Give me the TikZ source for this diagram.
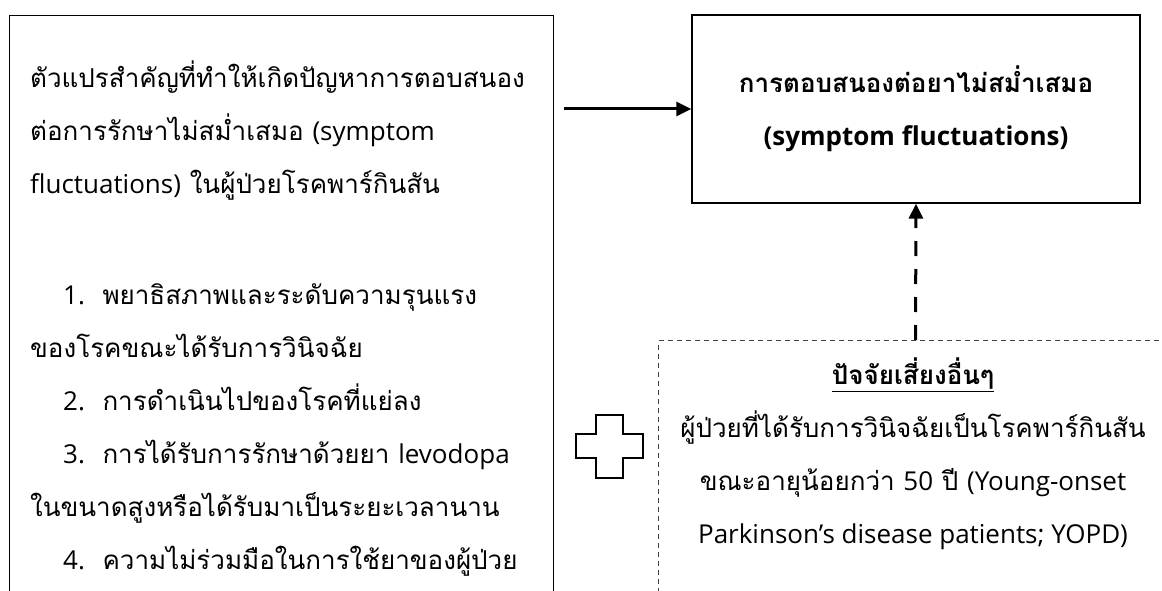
\documentclass[tikz,border=0pt]{standalone}
\usepackage{fontspec}
\setmainfont[Script=Thai]{Loma}
\newfontfamily\latinfont{Open Sans}
\newcommand{\lat}[1]{{\latinfont #1}}
\usetikzlibrary{arrows.meta, positioning}

\begin{document}
\begin{tikzpicture}
  [x=1pt, y=-1pt,
  frame/.style={draw, line width=1.3pt, inner sep=0pt},
  riskframe/.style={draw=black!75, line width=1pt, dash pattern=on 5pt off 4pt, inner sep=0pt},
  body/.style={inner sep=0pt, font=\fontsize{26}{53}\selectfont},
  heavy/.style={line width=3pt}]

\useasboundingbox (0,0) rectangle (1162,591);

% Boxes
\node[frame, anchor=north west, minimum width=544pt, minimum height=620pt] (factors) at (9,15) {};
\node[frame, minimum width=448pt, minimum height=188pt, align=center, body, font=\fontsize{26}{53}\selectfont\bfseries] (outcome) at (916,109) {การตอบสนองต่อยาไม่สม่ำเสมอ\\\lat{(symptom fluctuations)}};
\node[riskframe, anchor=north west, minimum width=514pt, minimum height=300pt] (risk) at (658,340) {};

% Text of the factors box
\node[body, anchor=north west, align=left] (factorlist) at (30,61) {ตัวแปรสำคัญที่ทำให้เกิดปัญหาการตอบสนอง\\
ต่อการรักษาไม่สม่ำเสมอ \lat{(symptom}\\
\lat{fluctuations)} ในผู้ป่วยโรคพาร์กินสัน\\
\mbox{}\\[5pt]
\hspace*{33pt}\lat{1.}\ \ พยาธิสภาพและระดับความรุนแรง\\
ของโรคขณะได้รับการวินิจฉัย\\
\hspace*{33pt}\lat{2.}\ \ การดำเนินไปของโรคที่แย่ลง\\
\hspace*{33pt}\lat{3.}\ \ การได้รับการรักษาด้วยยา \lat{levodopa}\\
ในขนาดสูงหรือได้รับมาเป็นระยะเวลานาน\\
\hspace*{33pt}\lat{4.}\ \ ความไม่ร่วมมือในการใช้ยาของผู้ป่วย};

% Text of the risk box
\node[body, anchor=north, align=center] (risklist) at (913,358) {\textbf{\underline{ปัจจัยเสี่ยงอื่นๆ}}\\
ผู้ป่วยที่ได้รับการวินิจฉัยเป็นโรคพาร์กินสัน\\
ขณะอายุน้อยกว่า \lat{50} ปี \lat{(Young-onset}\\
\lat{Parkinson’s disease patients; YOPD)}};

% Plus sign
\draw[line width=2.2pt] (596,415) -- (623,415) -- (623,434) -- (643,434) -- (643,458) -- (623,458)
  -- (623,478) -- (596,478) -- (596,458) -- (576,458) -- (576,434) -- (596,434) -- cycle;

% Arrows
\coordinate (tail) at (564,109);
\draw[heavy, -{Triangle[length=15pt, width=14pt]}] (tail) -- (outcome.west);
\draw[heavy, dash pattern=on 15pt off 13pt, -{Triangle[length=15pt, width=14pt]}] (risk.north) -- (outcome.south);

\end{tikzpicture}
\end{document}
